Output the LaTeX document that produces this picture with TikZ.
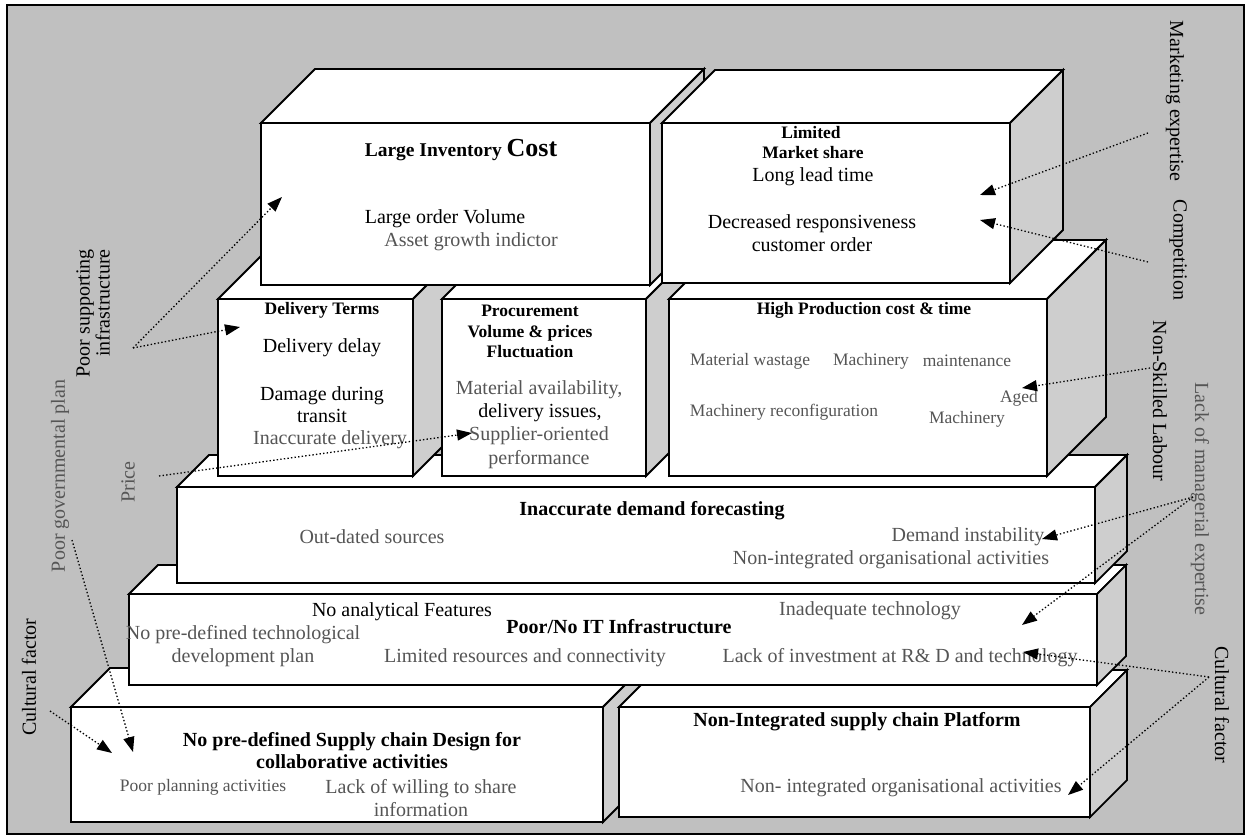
\documentclass[tikz,border=0pt]{standalone}
\usepackage{fontspec}
\setmainfont{Liberation Serif}
\usetikzlibrary{arrows.meta}

\definecolor{bggrey}{RGB}{192,192,192}
\definecolor{sidegrey}{RGB}{206,206,206}
\definecolor{tgrey}{RGB}{85,85,85}

% 3-D slab: name, x1, y1, x2, y2 (front face corners), depth
\newcommand\slab[6]{%
  \filldraw[topface] (#2,#3) -- (#2+#6,#3-#6) -- (#4+#6,#3-#6) -- (#4,#3) -- cycle;
  \filldraw[sideface] (#4,#3) -- (#4+#6,#3-#6) -- (#4+#6,#5-#6) -- (#4,#5) -- cycle;
  \node[frontface, anchor=north west, minimum width=(#4-#2)*1pt,
        minimum height=(#5-#3)*1pt] (#1) at (#2,#3) {};
}

\tikzset{
  boxline/.style={draw=black, line width=1.8pt},
  topface/.style={boxline, fill=white},
  sideface/.style={boxline, fill=sidegrey},
  frontface/.style={boxline, fill=white, inner sep=0pt, outer sep=0pt},
  tnorm/.style={inner sep=0pt, align=center, font=\fontsize{20}{23}\selectfont},
  tsmall/.style={inner sep=0pt, align=center, font=\fontsize{17.5}{20.5}\selectfont},
  tbold/.style={inner sep=0pt, align=center, font=\fontsize{20}{22}\selectfont\bfseries},
  tsmallb/.style={inner sep=0pt, align=center, font=\fontsize{17.5}{20.5}\selectfont\bfseries},
  gtext/.style={text=tgrey},
  conn/.style={line width=1.3pt, dash pattern=on 1.4pt off 2.2pt,
               -{Triangle[length=15pt,width=11pt]}},
}

\begin{document}
\begin{tikzpicture}[x=1pt, y=-1pt]
\useasboundingbox (0,0) rectangle (1249,837);
\fill[white] (0,0) rectangle (1249,837);
\draw[line width=1.5pt, fill=bggrey] (7,5) rectangle (1244,834);

% bottom row
\slab{scd}{71}{707}{603}{822}{39}
\slab{nip}{619}{707}{1090}{817}{37}
% IT layer
\slab{it}{129}{594}{1097}{685}{29}
% forecasting layer
\slab{idf}{177}{487}{1095}{583}{32}
% middle row
\slab{dt}{218}{299}{413}{476}{59}
\slab{pv}{442}{299}{646}{476}{59}
\slab{hp}{669}{299}{1047}{476}{59}
% top row
\slab{lic}{261}{123}{650}{285}{54}
\slab{lms}{662}{123}{1010}{283}{53}

% Large Inventory Cost
\node[inner sep=0pt, font=\fontsize{19.5}{22}\selectfont\bfseries] (licT) at (461,150)
  {Large Inventory {\fontsize{26}{28}\selectfont Cost}};
\node[tnorm] (licA) at (445,219) {Large order Volume};
\node[tnorm, gtext] (licB) at (471,242) {Asset growth indictor};

% Limited Market share
\node[tsmallb, anchor=base] (lmsT1) at (811,139) {Limited};
\node[tsmallb, anchor=base] (lmsT2) at (813,159) {Market share};
\node[tnorm, anchor=base] (lmsA) at (813,182) {Long lead time};
\node[tnorm] (lmsB) at (812,233.5) {Decreased responsiveness\\customer order};

% Delivery Terms
\node[tsmallb] (dtT) at (322,310) {Delivery Terms};
\node[tnorm] (dtA) at (322,348) {Delivery delay};
\node[tnorm, font=\fontsize{20}{22}\selectfont] (dtB) at (322,405) {Damage during\\transit};
\node[tnorm, gtext] (dtC) at (330,440) {Inaccurate delivery};

% Procurement
\node[tsmallb] (pvT) at (530,331.5) {Procurement\\Volume \& prices\\Fluctuation};
\node[tnorm, gtext] (pvA) at (539,390) {Material availability,};
\node[tnorm] (pvB) at (540,413) {delivery issues,};
\node[tnorm, gtext, font=\fontsize{20}{24}\selectfont] (pvC) at (539,448) {Supplier-oriented\\performance};

% High Production cost & time
\node[tsmallb] (hpT) at (864,310) {High Production cost \& time};
\node[tsmall, gtext] (hpA) at (750,361) {Material wastage};
\node[tsmall, gtext] (hpB) at (871,361) {Machinery};
\node[tsmall, gtext] (hpC) at (967,361) {maintenance};
\node[tsmall, gtext] (hpD) at (784,412) {Machinery reconfiguration};
\node[tsmall, gtext] (hpE) at (1019,398) {Aged};
\node[tsmall, gtext] (hpF) at (967,419) {Machinery};

% Inaccurate demand forecasting
\node[tbold] (idfT) at (652,511) {Inaccurate demand forecasting};
\node[tnorm, gtext] (idfA) at (372,537) {Out-dated sources};
\node[tnorm, gtext] (idfB) at (968,537) {Demand instability};
\node[tnorm, gtext] (idfC) at (891,560) {Non-integrated organisational activities};

% Poor/No IT Infrastructure
\node[tnorm] (itA) at (402,612) {No analytical Features};
\node[tbold] (itT) at (619,627) {Poor/No IT Infrastructure};
\node[tnorm, gtext] (itB) at (870,611) {Inadequate technology};
\node[tnorm, gtext] (itC) at (243,646.5) {No pre-defined technological\\development plan};
\node[tnorm, gtext] (itD) at (525,658) {Limited resources and connectivity};
\node[tnorm, gtext] (itE) at (900,658) {Lack of investment at R\& D and technology};

% Supply chain design
\node[tbold] (scdT) at (352,751) {No pre-defined Supply chain Design for\\collaborative activities};
\node[tsmall, gtext] (scdA) at (203,787) {Poor planning activities};
\node[tnorm, gtext] (scdB) at (421,798.5) {Lack of willing to share\\information};

% Non-Integrated platform
\node[tbold] (nipT) at (857,722) {Non-Integrated supply chain Platform};
\node[tnorm, gtext] (nipA) at (901,788) {Non- integrated organisational activities};

% side factors
\node[tnorm, rotate=90, align=right, anchor=east, font=\fontsize{20}{20}\selectfont]
  (fInfra) at (93,249) {Poor supporting\\infrastructure};
\node[tnorm, gtext, rotate=90] (fGov) at (60,476) {Poor governmental plan};
\node[tnorm, gtext, rotate=90] (fPrice) at (128,482) {Price};
\node[tnorm, rotate=90] (fCultL) at (29,677) {Cultural factor};
\node[tnorm, rotate=-90] (fMkt) at (1175,101) {Marketing expertise};
\node[tnorm, rotate=-90] (fComp) at (1178,250) {Competition};
\node[tnorm, rotate=-90] (fLab) at (1160,401) {Non-Skilled Labour};
\node[tnorm, gtext, rotate=-90] (fMgr) at (1200,499) {Lack of managerial expertise};
\node[tnorm, rotate=-90] (fCultR) at (1222,705) {Cultural factor};

% connector ends
\coordinate (sInfra) at (133,348);
\coordinate (eLic) at (282,197);
\coordinate (eDt) at (240,327);
\coordinate (sPrice) at (159,476);
\coordinate (ePv) at (472,433);
\coordinate (sMkt) at (1148,133);
\coordinate (eMkt) at (980,195);
\coordinate (sComp) at (1148,262);
\coordinate (eComp) at (980,220);
\coordinate (sLab) at (1150,368);
\coordinate (eLab) at (1022,388);
\coordinate (sMgr) at (1193,497);
\coordinate (eIdf) at (1042,539);
\coordinate (eIt) at (1022,625);
\coordinate (sCultR) at (1209,677);
\coordinate (eRd) at (1023,652);
\coordinate (eNip) at (1068,795);
\coordinate (sCultL) at (50,711);
\coordinate (eScdA) at (112,753);
\coordinate (sGov) at (72,540);
\coordinate (eScdB) at (133,752);

\draw[conn] (sInfra) -- (eLic);
\draw[conn] (sInfra) -- (eDt);
\draw[conn] (sPrice) -- (ePv);
\draw[conn] (sMkt) -- (eMkt);
\draw[conn] (sComp) -- (eComp);
\draw[conn] (sLab) -- (eLab);
\draw[conn] (sMgr) -- (eIdf);
\draw[conn] (sMgr) -- (eIt);
\draw[conn] (sCultR) -- (eRd);
\draw[conn] (sCultR) -- (eNip);
\draw[conn] (sCultL) -- (eScdA);
\draw[conn] (sGov) -- (eScdB);
\end{tikzpicture}
\end{document}
